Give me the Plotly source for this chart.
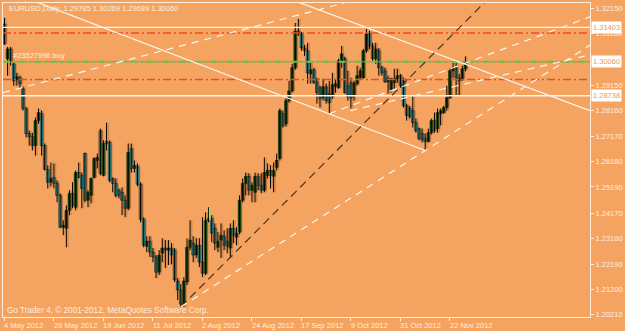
import plotly.graph_objects as go

# ---------------- data (EURUSD Daily, bar index 0 = 4 May 2012) ----------------
OPEN = [
1.3153, 1.3018, 1.3056, 1.2998, 1.2936, 1.2944, 1.2901, 1.2824, 1.2727, 1.2715,
1.2680, 1.2777, 1.2804, 1.2680, 1.2587, 1.2537, 1.2556, 1.2533, 1.2486, 1.2362,
1.2358, 1.2428, 1.2494, 1.2440, 1.2575, 1.2564, 1.2649, 1.2467, 1.2486, 1.2556,
1.2622, 1.2738, 1.2564, 1.2696, 1.2692, 1.2552, 1.2533, 1.2506, 1.2498, 1.2467,
1.2436, 1.2668, 1.2591, 1.2599, 1.2529, 1.2393, 1.2288, 1.2308, 1.2265, 1.2246,
1.2187, 1.2261, 1.2281, 1.2273, 1.2281, 1.2273, 1.2153, 1.2118, 1.2063, 1.2149,
1.2284, 1.2300, 1.2254, 1.2292, 1.2226, 1.2183, 1.2389, 1.2397, 1.2358, 1.2284,
1.2312, 1.2327, 1.2308, 1.2281, 1.2358, 1.2323, 1.2343, 1.2467, 1.2533, 1.2560,
1.2506, 1.2498, 1.2560, 1.2525, 1.2506, 1.2564, 1.2583, 1.2560, 1.2595, 1.2630,
1.2804, 1.2765, 1.2855, 1.2893, 1.2983, 1.3126, 1.3115, 1.3060, 1.3049, 1.2959,
1.2975, 1.2928, 1.2905, 1.2866, 1.2909, 1.2882, 1.2870, 1.2909, 1.2905, 1.3010,
1.3018, 1.2913, 1.2924, 1.2874, 1.2921, 1.2944, 1.2944, 1.3049, 1.3115, 1.3068,
1.3018, 1.3049, 1.2983, 1.2971, 1.2928, 1.2897, 1.2924, 1.2940, 1.2952, 1.2932,
1.2835, 1.2824, 1.2816, 1.2769, 1.2746, 1.2727, 1.2707, 1.2696, 1.2730, 1.2777,
1.2746, 1.2804, 1.2808, 1.2828, 1.2866, 1.2971, 1.2983, 1.2944, 1.2940, 1.29785]
HIGH = [
1.3177, 1.3064, 1.3064, 1.3002, 1.2963, 1.2952, 1.2909, 1.2831, 1.2738, 1.2730,
1.2789, 1.2824, 1.2816, 1.2688, 1.2603, 1.2614, 1.2610, 1.2544, 1.2494, 1.2389,
1.2447, 1.2506, 1.2537, 1.2583, 1.2614, 1.2575, 1.2653, 1.2506, 1.2556, 1.2634,
1.2649, 1.2746, 1.2700, 1.2769, 1.2700, 1.2556, 1.2552, 1.2513, 1.2517, 1.2486,
1.2688, 1.2688, 1.2622, 1.2610, 1.2537, 1.2401, 1.2327, 1.2327, 1.2281, 1.2254,
1.2273, 1.2319, 1.2312, 1.2312, 1.2300, 1.2281, 1.2164, 1.2141, 1.2168, 1.2319,
1.2389, 1.2327, 1.2319, 1.2319, 1.2401, 1.2420, 1.2440, 1.2409, 1.2377, 1.2343,
1.2377, 1.2350, 1.2358, 1.2377, 1.2389, 1.2362, 1.2486, 1.2552, 1.2575, 1.2572,
1.2537, 1.2575, 1.2572, 1.2572, 1.2634, 1.2610, 1.2603, 1.2614, 1.2649, 1.2824,
1.2816, 1.2866, 1.2932, 1.2998, 1.3157, 1.3173, 1.3122, 1.3072, 1.3080, 1.3002,
1.2983, 1.2944, 1.2913, 1.2940, 1.2921, 1.2932, 1.2963, 1.2940, 1.3018, 1.3068,
1.3026, 1.2971, 1.2944, 1.2932, 1.2991, 1.2983, 1.3056, 1.3134, 1.3126, 1.3080,
1.3080, 1.3060, 1.2991, 1.2983, 1.2952, 1.2944, 1.2979, 1.2979, 1.2959, 1.2944,
1.2843, 1.2835, 1.2874, 1.2785, 1.2750, 1.2746, 1.2727, 1.2746, 1.2785, 1.2808,
1.2824, 1.2824, 1.2835, 1.2913, 1.2979, 1.3002, 1.3002, 1.2959, 1.2991, 1.30269]
LOW = [
1.3072, 1.2952, 1.2991, 1.2913, 1.2913, 1.2901, 1.2816, 1.2711, 1.2680, 1.2661,
1.2641, 1.2765, 1.2641, 1.2583, 1.2513, 1.2521, 1.2513, 1.2459, 1.2358, 1.2331,
1.2284, 1.2409, 1.2436, 1.2428, 1.2552, 1.2436, 1.2459, 1.2440, 1.2455, 1.2552,
1.2591, 1.2564, 1.2560, 1.2661, 1.2537, 1.2498, 1.2478, 1.2474, 1.2409, 1.2401,
1.2428, 1.2575, 1.2575, 1.2521, 1.2381, 1.2284, 1.2265, 1.2246, 1.2226, 1.2164,
1.2176, 1.2226, 1.2203, 1.2215, 1.2218, 1.2149, 1.2079, 1.2052, 1.2052, 1.2137,
1.2273, 1.2226, 1.2242, 1.2207, 1.2168, 1.2176, 1.2381, 1.2304, 1.2273, 1.2265,
1.2242, 1.2273, 1.2261, 1.2242, 1.2300, 1.2292, 1.2335, 1.2459, 1.2486, 1.2486,
1.2459, 1.2459, 1.2506, 1.2494, 1.2498, 1.2552, 1.2513, 1.2498, 1.2583, 1.2622,
1.2750, 1.2754, 1.2847, 1.2886, 1.2975, 1.3107, 1.3049, 1.3029, 1.2921, 1.2921,
1.2921, 1.2843, 1.2828, 1.2855, 1.2843, 1.2804, 1.2862, 1.2886, 1.2901, 1.2983,
1.2882, 1.2855, 1.2824, 1.2855, 1.2913, 1.2940, 1.2940, 1.3041, 1.3056, 1.3010,
1.2998, 1.2952, 1.2952, 1.2924, 1.2882, 1.2886, 1.2901, 1.2924, 1.2905, 1.2828,
1.2777, 1.2785, 1.2750, 1.2730, 1.2700, 1.2692, 1.2661, 1.2692, 1.2723, 1.2730,
1.2730, 1.2758, 1.2804, 1.2816, 1.2862, 1.2944, 1.2874, 1.2874, 1.2932, 1.29689]
CLOSE = [
1.3076, 1.3056, 1.3010, 1.2932, 1.2948, 1.2921, 1.2824, 1.2727, 1.2715, 1.2680,
1.2777, 1.2808, 1.2680, 1.2587, 1.2537, 1.2552, 1.2533, 1.2486, 1.2362, 1.2370,
1.2428, 1.2494, 1.2447, 1.2575, 1.2556, 1.2513, 1.2467, 1.2498, 1.2552, 1.2630,
1.2634, 1.2572, 1.2688, 1.2688, 1.2544, 1.2533, 1.2486, 1.2486, 1.2467, 1.2436,
1.2653, 1.2591, 1.2603, 1.2529, 1.2393, 1.2292, 1.2308, 1.2265, 1.2246, 1.2187,
1.2254, 1.2281, 1.2273, 1.2281, 1.2254, 1.2157, 1.2118, 1.2063, 1.2153, 1.2284,
1.2312, 1.2254, 1.2292, 1.2226, 1.2183, 1.2389, 1.2397, 1.2339, 1.2300, 1.2308,
1.2331, 1.2292, 1.2288, 1.2358, 1.2331, 1.2339, 1.2467, 1.2533, 1.2560, 1.2506,
1.2525, 1.2560, 1.2525, 1.2506, 1.2575, 1.2583, 1.2564, 1.2583, 1.2622, 1.2816,
1.2758, 1.2855, 1.2893, 1.2983, 1.3126, 1.3115, 1.3060, 1.3049, 1.2963, 1.2975,
1.2924, 1.2886, 1.2862, 1.2909, 1.2855, 1.2847, 1.2917, 1.2921, 1.3010, 1.3037,
1.2886, 1.2870, 1.2866, 1.2924, 1.2952, 1.2971, 1.3049, 1.3115, 1.3068, 1.3018,
1.3056, 1.2983, 1.2963, 1.2928, 1.2940, 1.2940, 1.2940, 1.2952, 1.2913, 1.2835,
1.2797, 1.2793, 1.2769, 1.2738, 1.2707, 1.2703, 1.2696, 1.2730, 1.2777, 1.2738,
1.2808, 1.2816, 1.2828, 1.2866, 1.2971, 1.2983, 1.2944, 1.2932, 1.2979, 1.30060]
BAR = list(range(len(OPEN)))

DATE_TICKS = [0, 16, 32, 48, 64, 80, 96, 112, 128, 144]
DATE_LABELS = ["4 May 2012", "28 May 2012", "19 Jun 2012", "11 Jul 2012", "2 Aug 2012",
               "24 Aug 2012", "17 Sep 2012", "9 Oct 2012", "31 Oct 2012", "22 Nov 2012"]

PRICE_TICKS = [1.32150, 1.31180, 1.29150, 1.28160, 1.27170, 1.26180, 1.25190,
               1.24170, 1.23180, 1.22190, 1.21200, 1.20210]

# horizontal levels
LEVEL_WHITE = [1.31403, 1.28738]
LEVEL_RED = [1.31180, 1.29369]
ORDER_PRICE = 1.30060
BID = 1.30060
BOX_LEVELS = [1.31403, 1.30060, 1.28738]

# trend lines: (bar0, price0, bar1, price1, kind)
TRENDS = [
    (9.4, 1.3243, 136.0, 1.2661, "white"),
    (93.9, 1.3243, 189.3, 1.2816, "white"),
    (57.0, 1.2052, 155.7, 1.3243, "dark"),
    (-0.48, 1.2886, 109.9, 1.3235, "wdash"),
    (57.0, 1.2052, 189.3, 1.3071, "wdash"),
    (105.0, 1.2804, 189.3, 1.3181, "wdash"),
    (111.8, 1.2816, 189.3, 1.3033, "wdash"),
]
MARK_BAR = [66.4, 66.4]
MARK_PRICE = [1.2440, 1.2389]
SHADOW_OFFSET = 0.55

BG = "#F4A460"
FG = "#FFEEDD"
FONT = "Liberation Sans"
BULL = "#0B520B"
BEAR = "#2FA8AE"
SHADOW = "rgba(150,92,45,0.40)"

# derived arrays for drawing candles from the OHLC lists
body_base = [min(o, c) for o, c in zip(OPEN, CLOSE)]
body_len = [max(abs(c - o), 0.00012) for o, c in zip(OPEN, CLOSE)]
body_col = [BULL if c >= o else BEAR for o, c in zip(OPEN, CLOSE)]


def wick_xy(xs):
    wx, wy = [], []
    for x, h, l in zip(xs, HIGH, LOW):
        wx += [x, x, None]
        wy += [l, h, None]
    return wx, wy


fig = go.Figure()
# faint ghost copy of the bars (terminal picture shows it behind the candles)
sx = [b + SHADOW_OFFSET for b in BAR]
swx, swy = wick_xy(sx)
fig.add_trace(go.Scatter(x=swx, y=swy, mode="lines", line=dict(color=SHADOW, width=1.2),
                         showlegend=False, hoverinfo="skip"))
fig.add_trace(go.Bar(x=sx, y=body_len, base=body_base, width=0.8,
                     marker=dict(color=SHADOW, line=dict(width=0)), showlegend=False, hoverinfo="skip"))
# candles
wx, wy = wick_xy(BAR)
fig.add_trace(go.Scatter(x=wx, y=wy, mode="lines", line=dict(color="#000000", width=1),
                         showlegend=False, hoverinfo="skip"))
fig.add_trace(go.Bar(x=BAR, y=body_len, base=body_base, width=0.9,
                     marker=dict(color=body_col, line=dict(color="#000000", width=0.5)),
                     showlegend=False, hoverinfo="skip"))
fig.add_trace(go.Scatter(x=MARK_BAR, y=MARK_PRICE, mode="lines",
                         line=dict(color="#9CF25A", width=1.5), showlegend=False, hoverinfo="skip"))

shapes = []
for lv in LEVEL_WHITE:
    shapes.append(dict(type="line", xref="paper", x0=0, x1=1, yref="y", y0=lv, y1=lv,
                       line=dict(color="#FFF4EA", width=1.3), layer="above"))
for lv in LEVEL_RED:
    shapes.append(dict(type="line", xref="paper", x0=0, x1=1, yref="y", y0=lv, y1=lv,
                       line=dict(color="#F24A26", width=1.6, dash="8px,3px,2px,3px"), layer="above"))
shapes.append(dict(type="line", xref="paper", x0=0, x1=1, yref="y", y0=BID, y1=BID,
                   line=dict(color="#8F8F8F", width=1), layer="above"))
shapes.append(dict(type="line", xref="paper", x0=0, x1=1, yref="y", y0=ORDER_PRICE, y1=ORDER_PRICE,
                   line=dict(color="#62C83A", width=2, dash="6px,4px,2px,4px"), layer="above"))
for b0, p0, b1, p1, kind in TRENDS:
    if kind == "white":
        ln = dict(color="#FFF6EE", width=1.2)
    elif kind == "dark":
        ln = dict(color="#4E3420", width=1.2, dash="8px,5px")
    else:
        ln = dict(color="#FFF6EE", width=1.2, dash="7px,6px")
    shapes.append(dict(type="line", xref="x", yref="y", x0=b0, y0=p0, x1=b1, y1=p1,
                       line=ln, layer="above"))

ann = []
ann.append(dict(text="EURUSD,Daily  1.29785 1.30269 1.29689 1.30060", xref="paper", yref="paper",
                x=0.006, y=0.984, xanchor="left", yanchor="middle", showarrow=False,
                font=dict(family=FONT, size=7.5, color=FG)))
ann.append(dict(text="#23527996 buy", xref="paper", yref="y", x=0.013, y=ORDER_PRICE,
                xanchor="left", yanchor="bottom", yshift=0, showarrow=False,
                font=dict(family=FONT, size=7.5, color=FG)))
ann.append(dict(text="Go Trader 4, © 2001-2012, MetaQuotes Software Corp.", xref="paper", yref="paper",
                x=0.004, y=0.022, xanchor="left", yanchor="middle", showarrow=False,
                font=dict(family=FONT, size=8.2, color=FG)))
for b, lab in zip(DATE_TICKS, DATE_LABELS):
    ann.append(dict(text=lab, xref="x", yref="paper", x=b, y=0, xanchor="left", yanchor="top",
                    xshift=-2, yshift=-2, showarrow=False,
                    font=dict(family=FONT, size=7.5, color=FG)))
for lv in BOX_LEVELS:
    ann.append(dict(text=f"{lv:.5f}", xref="paper", yref="y", x=1, y=lv, xanchor="left",
                    yanchor="middle", xshift=1, showarrow=False, bgcolor="#FFFFFF", borderpad=1,
                    font=dict(family=FONT, size=7.5, color="#E89A5C")))

fig.update_layout(
    width=625, height=331, margin=dict(l=2, r=30, t=2, b=14),
    paper_bgcolor=BG, plot_bgcolor=BG, showlegend=False, barmode="overlay",
    shapes=shapes, annotations=ann,
    xaxis=dict(range=[-0.48, 189.28], showgrid=False, zeroline=False,
               showline=True, linecolor=FG, linewidth=1, mirror=True,
               tickmode="array", tickvals=DATE_TICKS, showticklabels=False,
               ticks="outside", ticklen=3, tickcolor=FG, fixedrange=True),
    yaxis=dict(range=[1.20127, 1.32349], side="right", showgrid=False, zeroline=False,
               showline=True, linecolor=FG, linewidth=1, mirror=True,
               tickmode="array", tickvals=PRICE_TICKS, ticktext=[f"{v:.5f}" for v in PRICE_TICKS],
               ticks="outside", ticklen=3, tickcolor=FG,
               tickfont=dict(family=FONT, size=7.5, color=FG), fixedrange=True),
)

fig.write_html("out.html")
